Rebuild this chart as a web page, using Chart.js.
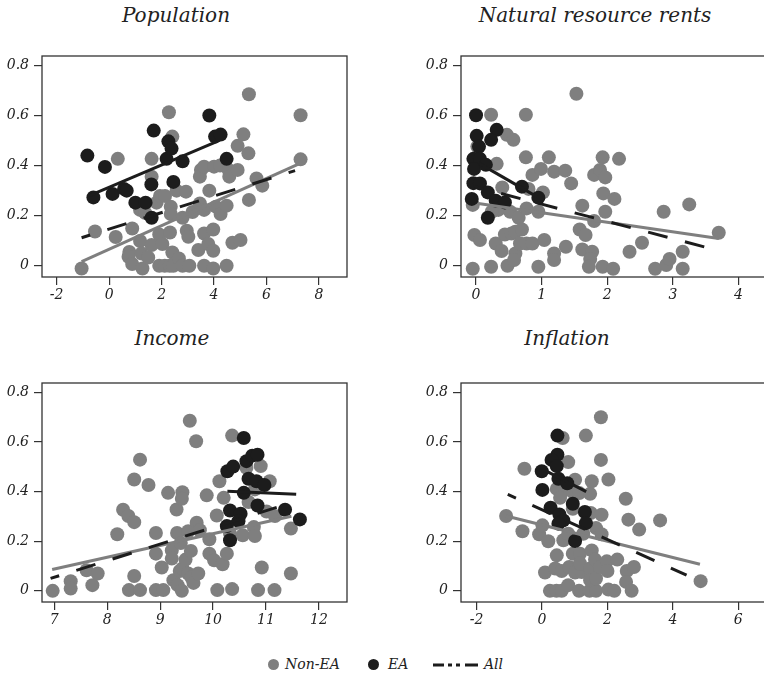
<!DOCTYPE html>
<html>
<head>
<meta charset="utf-8">
<style>
  body { margin: 0; width: 764px; height: 678px; overflow: hidden; background: #fff; position: relative;
         font-family: "DejaVu Serif", serif; font-style: italic; color: #222; }
  .box { position: absolute; }
  .title { position: absolute; font-size: 20px; transform: translateX(-50%); white-space: nowrap; }
  .leg { position: absolute; font-size: 14px; white-space: nowrap; }
  .dot { position: absolute; width: 11px; height: 11px; border-radius: 50%; }
</style>
</head>
<body>
<script src="https://cdn.jsdelivr.net/npm/chart.js@4.4.0/dist/chart.umd.min.js"></script>

<div class="title" style="left:176px; top:3px;">Population</div>
<div class="title" style="left:595px; top:3px;">Natural resource rents</div>
<div class="title" style="left:172px; top:326px;">Income</div>
<div class="title" style="left:567px; top:326px;">Inflation</div>

<div class="box" style="left:0px; top:36px;"><canvas id="c1" width="380" height="284"></canvas></div>
<div class="box" style="left:380px; top:36px;"><canvas id="c2" width="400" height="284"></canvas></div>
<div class="box" style="left:0px; top:362px;"><canvas id="c3" width="380" height="284"></canvas></div>
<div class="box" style="left:380px; top:362px;"><canvas id="c4" width="400" height="284"></canvas></div>

<!-- legend -->
<div class="dot" style="left:268px; top:659px; background:#7f7f7f;"></div>
<div class="leg" style="left:285px; top:656px;">Non-EA</div>
<div class="dot" style="left:368px; top:659px; background:#1c1c1c;"></div>
<div class="leg" style="left:388px; top:656px;">EA</div>
<svg style="position:absolute; left:433px; top:660px;" width="46" height="10">
  <line x1="0" y1="5" x2="45" y2="5" stroke="#1c1c1c" stroke-width="3" stroke-dasharray="11 4 4 4 4 5 13"/>
</svg>
<div class="leg" style="left:484px; top:656px;">All</div>

<script>
// ---- data ----
const yTicks = [0, 0.2, 0.4, 0.6, 0.8];
const popXTicks = [-2, 0, 2, 4, 6, 8];
const natXTicks = [0, 1, 2, 3, 4];
const incXTicks = [7, 8, 9, 10, 11, 12];
const infXTicks = [-2, 0, 2, 4, 6];

const popNonEA = [[-1.05,-0.011],[-0.54,0.137],[0.25,0.115],[0.33,0.427],[0.88,0.149],[0.77,0.055],[0.74,0.036],[0.88,0.007],[1.18,0.099],[1.27,-0.011],[1.24,0.049],[1.49,0.033],[1.18,0.223],[1.37,0.212],[1.62,0.356],[1.62,0.427],[1.62,0.083],[1.81,0.252],[1.94,0.279],[2.13,0.279],[1.91,0.125],[2.03,0.087],[1.91,0],[2.12,0],[2.31,0],[2.45,0],[2.28,0.613],[2.41,0.516],[2.35,0.236],[2.35,0.207],[2.32,0.133],[2.41,0.053],[2.66,0.029],[2.57,0.30],[2.93,0.296],[2.80,0.192],[2.96,0.14],[3.02,0.116],[2.80,0],[3.06,0],[3.18,0.215],[3.40,0.063],[3.46,0.249],[3.50,0.383],[3.46,0.356],[3.62,0.396],[3.62,0.223],[3.62,0.129],[3.62,0],[3.78,0.087],[3.97,0.06],[3.82,0.30],[3.97,0.145],[3.97,-0.011],[4.0,0.396],[4.23,0.40],[4.07,0.236],[4.25,0.207],[4.48,0],[4.48,0.24],[4.56,0.383],[4.58,0.356],[4.70,0.092],[4.90,0.383],[4.90,0.479],[5.01,0.103],[5.12,0.525],[5.31,0.449],[5.33,0.685],[5.33,0.263],[5.62,0.349],[5.84,0.32],[7.30,0.601],[7.30,0.425]];
const popEA = [[-0.83,0.44],[-0.16,0.395],[-0.60,0.273],[0.13,0.287],[0.57,0.307],[0.67,0.30],[1.0,0.252],[1.39,0.252],[1.62,0.192],[1.61,0.325],[1.70,0.54],[2.19,0.427],[2.26,0.497],[2.38,0.468],[2.45,0.335],[2.80,0.417],[3.82,0.60],[4.04,0.516],[4.25,0.524],[4.48,0.427]];
const popFitNonEA = [[-1.05,0.016],[7.28,0.409]];
const popFitEA = [[-0.75,0.28],[4.1,0.496]];
const popFitAll = [[-1.05,0.112],[7.09,0.38]];

const natNonEA = [[-0.05,-0.012],[-0.05,0.243],[-0.025,0.123],[0.06,0.103],[0.23,0.603],[0.315,0.407],[0.40,0.313],[0.23,-0.004],[0.30,0.089],[0.39,0.059],[0.34,0.223],[0.24,0.216],[0.47,0.523],[0.57,0.503],[0.44,0.125],[0.48,0],[0.52,0.216],[0.54,0.129],[0.60,0.136],[0.60,0.049],[0.58,0.023],[0.65,0.192],[0.70,0.145],[0.67,0.089],[0.77,0.089],[0.86,0.089],[0.76,0.603],[0.76,0.433],[0.77,0.229],[0.80,0.307],[0.86,0.363],[0.95,0.216],[0.95,-0.004],[0.99,0.387],[1.02,0.293],[1.04,0.103],[1.11,0.433],[1.19,0.376],[1.19,0.049],[1.19,0.023],[1.36,0.38],[1.37,0.076],[1.45,0.329],[1.53,0.687],[1.62,0.24],[1.58,0.145],[1.67,0.123],[1.62,0.065],[1.77,0.056],[1.74,0.027],[1.72,-0.004],[1.80,0.363],[1.80,0.179],[1.89,0.383],[1.97,0.353],[1.93,0.433],[1.94,0.289],[1.97,0.216],[1.93,-0.004],[2.09,-0.012],[2.11,0.267],[2.18,0.427],[2.34,0.056],[2.53,0.092],[2.73,-0.012],[2.86,0.216],[2.90,0.003],[2.95,0.027],[3.15,0.056],[3.15,-0.012],[3.25,0.245],[3.70,0.132],[0.02,0.476]];
const natEA = [[0,0.601],[0.01,0.519],[0.045,0.476],[0.315,0.543],[0.23,0.503],[-0.04,0.427],[0.06,0.427],[-0.03,0.387],[0.15,0.403],[-0.04,0.33],[0.06,0.329],[-0.065,0.267],[0.18,0.293],[0.30,0.26],[0.44,0.253],[0.18,0.192],[0.70,0.316],[0.95,0.272]];
const natFitNonEA = [[0.035,0.249],[3.70,0.109]];
const natFitEA = [[0.06,0.407],[0.925,0.276]];
const natFitAll = [[-0.015,0.316],[3.70,0.06]];

const incNonEA = [[6.97,0],[7.31,0.039],[7.31,0.009],[7.61,0.083],[7.72,0.023],[7.82,0.07],[8.19,0.228],[8.30,0.327],[8.40,0.302],[8.51,0.277],[8.51,0.449],[8.62,0.529],[8.51,0.06],[8.41,0.003],[8.62,0.003],[8.78,0.427],[8.92,0.233],[8.92,0.15],[8.92,0.003],[9.06,0.003],[9.03,0.094],[9.15,0.395],[9.22,0.163],[9.22,0.13],[9.31,0.328],[9.32,0.233],[9.25,0.043],[9.33,0.023],[9.41,0],[9.37,0.08],[9.42,0.09],[9.42,0.398],[9.41,0.371],[9.39,0.193],[9.48,0.126],[9.53,0.24],[9.56,0.686],[9.58,0.161],[9.53,0.07],[9.59,0.054],[9.63,0.032],[9.72,0.07],[9.68,0.603],[9.69,0.275],[9.75,0.244],[9.88,0.385],[9.93,0.208],[9.93,0.15],[10.02,0.123],[10.07,0.304],[10.12,0.442],[10.18,0.107],[10.08,0.003],[10.20,0.375],[10.26,0.15],[10.36,0.626],[10.32,0.23],[10.36,0.007],[10.56,0.224],[10.67,0.358],[10.63,0.496],[10.77,0.257],[10.79,0.221],[10.79,0.409],[10.85,0.003],[10.90,0.503],[10.92,0.094],[11.07,0.442],[11.01,0.32],[11.17,0.302],[11.16,0.003],[11.47,0.251],[11.47,0.07]];
const incEA = [[10.58,0.616],[10.27,0.482],[10.38,0.501],[10.63,0.523],[10.74,0.545],[10.84,0.549],[10.67,0.452],[10.82,0.442],[10.97,0.427],[10.58,0.395],[10.84,0.344],[10.32,0.324],[10.52,0.311],[10.48,0.281],[10.26,0.261],[10.32,0.204],[11.36,0.327],[11.64,0.288]];
const incFitNonEA = [[6.96,0.086],[11.48,0.301]];
const incFitEA = [[10.27,0.402],[11.57,0.389]];
const incFitAll = [[6.93,0.05],[11.48,0.355]];

const infNonEA = [[-1.10,0.302],[-0.54,0.492],[-0.60,0.24],[-0.09,0.228],[0.01,0.264],[0.19,0.20],[0.09,0.074],[0.24,0],[0.44,0],[0.60,0],[0.63,0.616],[0.80,0.519],[0.45,0.411],[0.60,0.398],[0.55,0.375],[0.45,0.143],[0.40,0.09],[0.60,0.08],[0.65,0.204],[0.80,0.23],[0.83,0.096],[0.80,0.023],[1.01,0.448],[0.94,0.398],[1.14,0.394],[0.94,0.331],[0.94,0.15],[1.16,0.15],[1.01,0.074],[1.21,0.076],[1.16,0.11],[1.13,0],[1.45,0],[1.65,0],[1.26,0.23],[1.34,0.626],[1.47,0.391],[1.52,0.442],[1.49,0.314],[1.52,0.163],[1.47,0.09],[1.47,0.043],[1.65,0.05],[1.62,0.126],[1.65,0.253],[1.82,0.228],[1.82,0.307],[1.80,0.528],[1.80,0.70],[1.77,0.096],[1.98,0.119],[2.0,0.08],[2.03,0.449],[2.03,0.005],[2.21,0],[2.30,0.126],[2.56,0.371],[2.64,0.287],[2.59,0.08],[2.57,0.036],[2.74,0],[2.81,0.096],[2.97,0.247],[3.61,0.284],[4.85,0.039]];
const infEA = [[0.47,0.626],[0.47,0.549],[0.29,0.528],[0.45,0.503],[-0.01,0.482],[0.50,0.452],[0.77,0.434],[0.01,0.407],[0.94,0.351],[0.26,0.335],[0.53,0.308],[0.65,0.284],[0.50,0.271],[1.31,0.318],[1.34,0.273],[1.01,0.201]];
const infFitNonEA = [[-1.10,0.302],[4.83,0.107]];
const infFitEA = [[0.1,0.485],[1.35,0.40]];
const infFitAll = [[-1.05,0.389],[4.42,0.063]];

// ---- drawing ----
const GRAY = '#7f7f7f', BLACK = '#1c1c1c', AXIS = '#333';
const tickFont = { family: 'DejaVu Serif', style: 'italic', size: 14 };
const pts = arr => arr.map(p => ({ x: p[0], y: p[1] }));

// box round the plot area
const framePlugin = {
  id: 'frame',
  afterDatasetsDraw(chart) {
    const { ctx, chartArea: a } = chart;
    ctx.save();
    ctx.strokeStyle = AXIS;
    ctx.lineWidth = 1.3;
    ctx.strokeRect(a.left, a.top, a.right - a.left, a.bottom - a.top);
    ctx.restore();
  }
};

function makePanel(id, box, frame, xMin, xMax, xTicks, nonEA, ea, fitNon, fitEA, fitAll) {
  new Chart(id, {
    type: 'scatter',
    data: {
      datasets: [
        { data: pts(fitAll), showLine: true, borderColor: BLACK, borderWidth: 3, borderDash: [20, 18], borderDashOffset: 11, pointRadius: 0, order: 0 },
        { data: pts(fitEA), showLine: true, borderColor: BLACK, borderWidth: 3, pointRadius: 0, order: 1 },
        { data: pts(fitNon), showLine: true, borderColor: GRAY, borderWidth: 3, pointRadius: 0, order: 2 },
        { data: pts(ea), backgroundColor: BLACK, borderWidth: 0, pointRadius: 7, order: 3 },
        { data: pts(nonEA), backgroundColor: GRAY, borderWidth: 0, pointRadius: 7, order: 4 }
      ]
    },
    options: {
      responsive: false,
      animation: false,
      events: [],
      clip: false,
      layout: { padding: { top: frame.t - box.y, right: box.x + box.w - frame.r, left: 0, bottom: 0 } },
      plugins: { legend: { display: false }, tooltip: { enabled: false } },
      scales: {
        x: {
          type: 'linear', min: xMin, max: xMax,
          afterBuildTicks: s => { s.ticks = xTicks.map(v => ({ value: v })); },
          afterFit: s => { s.height = box.y + box.h - frame.b; },
          grid: { display: true, drawOnChartArea: false, drawTicks: true, tickLength: 8, color: AXIS, lineWidth: 1.2 },
          border: { display: false },
          ticks: { font: tickFont, color: '#222', padding: 2, maxRotation: 0, callback: v => String(v) }
        },
        y: {
          type: 'linear', min: -0.045, max: 0.838,
          afterBuildTicks: s => { s.ticks = yTicks.map(v => ({ value: v })); },
          afterFit: s => { s.width = frame.l - box.x; },
          grid: { display: true, drawOnChartArea: false, drawTicks: true, tickLength: 8, color: AXIS, lineWidth: 1.2 },
          border: { display: false },
          ticks: { font: tickFont, color: '#222', padding: 5, callback: v => String(v) }
        }
      }
    },
    plugins: [framePlugin]
  });
}

makePanel('c1', { x: 0, y: 36, w: 380, h: 284 }, { l: 42, t: 56, r: 347, b: 277 }, -2.56, 9.07, popXTicks,
  popNonEA, popEA, popFitNonEA, popFitEA, popFitAll);
makePanel('c2', { x: 380, y: 36, w: 400, h: 284 }, { l: 461, t: 56, r: 766, b: 277 }, -0.229, 4.42, natXTicks,
  natNonEA, natEA, natFitNonEA, natFitEA, natFitAll);
makePanel('c3', { x: 0, y: 362, w: 380, h: 284 }, { l: 42, t: 383, r: 347, b: 602 }, 6.768, 12.53, incXTicks,
  incNonEA, incEA, incFitNonEA, incFitEA, incFitAll);
makePanel('c4', { x: 380, y: 362, w: 400, h: 284 }, { l: 461, t: 383, r: 766, b: 602 }, -2.48, 6.85, infXTicks,
  infNonEA, infEA, infFitNonEA, infFitEA, infFitAll);
</script>
</body>
</html>
